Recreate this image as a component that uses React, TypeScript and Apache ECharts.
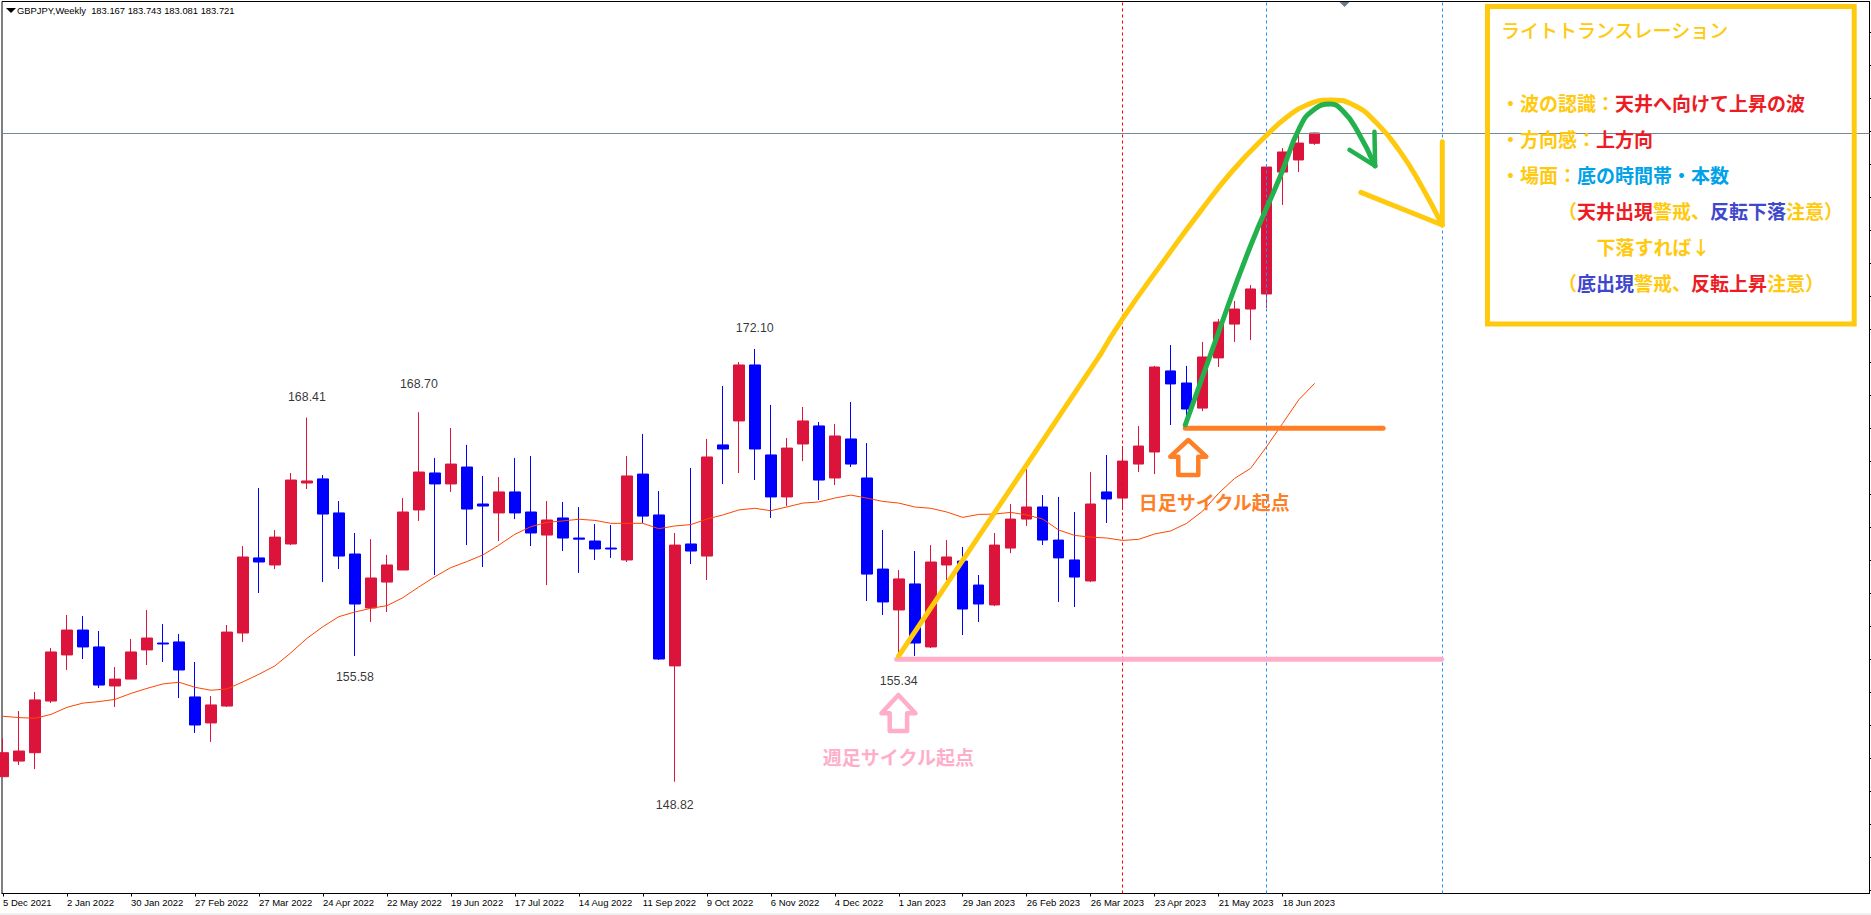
import React, { useEffect, useRef } from "react";
import * as echarts from "echarts";

const dateLabels = ["5 Dec 2021","2 Jan 2022","30 Jan 2022","27 Feb 2022","27 Mar 2022","24 Apr 2022","22 May 2022","19 Jun 2022","17 Jul 2022","14 Aug 2022","11 Sep 2022","9 Oct 2022","6 Nov 2022","4 Dec 2022","1 Jan 2023","29 Jan 2023","26 Feb 2023","26 Mar 2023","23 Apr 2023","21 May 2023","18 Jun 2023"];
const barsPerLabel = 4;

const opens = [149.09,149.93,150.38,153.16,155.64,156.98,156.07,153.97,154.34,155.91,156.28,156.34,153.38,151.98,152.89,156.82,160.86,160.48,161.61,164.89,165.11,163.28,161.07,158.17,159.56,160.21,163.44,165.43,164.84,165.75,163.76,163.28,164.41,163.33,162.09,163.01,161.93,161.77,161.39,160.75,165.37,163.17,155.05,161.61,160.96,166.94,168.23,171.24,166.40,164.14,166.99,167.96,165.16,167.26,165.16,160.26,158.06,159.46,156.07,160.48,160.69,159.40,158.33,161.39,162.95,163.60,161.82,160.75,159.62,164.41,164.08,165.91,166.56,170.92,170.27,168.92,171.62,173.44,174.25,175.06,181.62,182.27,183.167];
const closes = [150.38,150.47,153.22,155.80,156.98,156.07,154.02,154.34,155.80,156.55,156.23,154.83,151.87,152.95,156.87,160.91,160.64,161.98,165.05,165.00,163.22,160.96,158.38,159.78,160.48,163.33,165.48,164.84,165.91,163.49,163.65,164.41,163.28,162.20,162.90,161.93,161.87,161.34,161.34,165.27,163.11,155.42,161.55,161.23,166.29,166.72,171.24,166.72,164.14,166.77,168.23,165.05,167.42,165.91,159.99,158.49,159.73,156.28,160.64,160.91,158.11,158.38,161.55,162.95,163.60,161.82,160.86,159.83,163.76,164.03,166.07,166.88,171.13,170.22,168.87,171.67,173.55,174.25,175.33,181.89,182.70,183.18,183.721];
const lows = [149.09,149.72,149.50,153.05,154.83,155.42,153.86,152.84,154.34,155.10,155.26,153.32,151.44,150.96,152.84,156.34,158.97,160.26,161.55,164.57,159.56,160.26,155.58,157.41,157.95,160.21,162.85,159.94,164.41,161.55,160.37,161.77,162.95,161.50,159.40,161.23,160.05,160.75,160.86,160.64,162.74,155.37,148.82,160.53,159.67,164.84,165.43,165.05,163.01,163.65,166.07,163.98,164.78,165.75,158.54,157.79,155.34,155.58,156.01,159.67,156.71,157.41,158.27,161.12,162.58,161.55,158.49,158.22,159.56,162.74,163.44,165.48,165.37,168.01,168.01,168.76,171.13,172.48,172.58,174.31,179.85,181.62,183.081];
const highs = [151.15,152.62,153.65,156.01,157.79,157.73,156.93,154.99,156.50,158.06,157.30,156.77,155.26,153.43,157.25,161.50,164.62,162.36,165.43,168.41,165.32,163.92,162.20,161.87,161.02,164.08,168.70,166.24,167.85,166.94,165.27,165.21,166.24,166.34,163.92,163.87,163.60,162.68,162.63,166.34,167.53,164.46,162.20,165.70,167.26,170.11,171.40,172.10,169.09,167.31,168.98,168.17,168.06,169.25,167.04,162.36,160.21,161.23,161.55,161.82,161.45,159.94,162.20,163.76,165.75,164.24,164.14,163.33,165.48,166.40,166.88,167.96,171.19,172.31,171.19,172.48,173.71,174.68,175.54,182.05,182.91,183.88,183.743];
const movingAverage = [152.34,152.27,152.23,152.44,152.82,153.05,153.13,153.25,153.57,153.84,154.08,154.17,153.90,153.74,153.81,154.19,154.60,155.05,155.76,156.53,157.16,157.70,157.95,158.15,158.29,158.72,159.30,159.85,160.34,160.66,161.02,161.55,162.13,162.54,162.77,162.85,162.94,162.88,162.72,162.72,162.72,162.43,162.58,162.65,162.95,163.17,163.44,163.53,163.40,163.60,163.81,163.87,164.08,164.24,164.08,163.90,163.81,163.60,163.53,163.33,163.04,163.20,163.22,163.31,163.17,162.95,162.36,162.07,161.98,161.93,161.80,161.86,162.15,162.31,162.72,163.38,164.34,165.14,165.68,166.85,168.10,169.36,170.25];

const highLabelBars = [19, 26, 47];
const lowLabelBars = [22, 42, 56];

const yAxisTicks = [189.14,187.37,185.59,183.81,182.04,180.26,178.49,176.71,174.94,173.16,171.38,169.61,167.83,166.06,164.28,162.5,160.73,158.95,157.18,155.4,153.63,151.85,150.08,148.3,146.53,144.75,142.98];

const currentPrice = 183.721;
const redVerticalBars = [70];
const blueVerticalBars = [79, 90];

const yellowRise = [[55.99,155.58],[68.59,171.78]];
const yellowCurve = [[68.59,171.78],[70.01,173.75],[72.76,177.07],[74.84,179.49],[76.91,181.73],[79.01,183.61],[80.29,184.60],[81.51,185.23],[82.97,185.50],[84.43,185.23],[85.89,184.24],[87.34,182.72],[88.59,181.01],[89.98,178.77]];
const yellowArrowHead = [[84.89,180.53],[89.98,178.77],[89.98,183.25]];
const greenCurve = [[73.91,168.01],[75.89,172.76],[77.97,177.60],[79.84,181.37],[81.09,184.06],[81.93,184.96],[82.97,185.28],[83.80,184.87],[84.64,183.88],[85.78,181.95]];
const greenArrowHead = [[84.18,182.81],[85.78,181.95],[85.74,183.79]];
const dailyStartLine = [[73.91,167.83],[86.28,167.83]];
const weeklyStartLine = [[55.87,155.41],[89.94,155.41]];

const headerText = "GBPJPY,Weekly  183.167 183.743 183.081 183.721";
const weeklyStartText = "週足サイクル起点";
const dailyStartText = "日足サイクル起点";

const YELLOW = "#FFC90E";
const GREEN = "#22B14C";
const ORANGE = "#FF7F27";
const PINK = "#FFAEC9";
const RED = "#ED1C24";
const SKY = "#00A2E8";
const INDIGO = "#3F48CC";
const JP = '"Noto Sans CJK JP"';

const boxLines: { x: number; y: number; parts: [string, string][] }[] = [
  { x: 1501, y: 29.5, parts: [["ライトトランスレーション", YELLOW]] },
  { x: 1501, y: 102, parts: [["・波の認識：", YELLOW], ["天井へ向けて上昇の波", RED]] },
  { x: 1501, y: 138, parts: [["・方向感：", YELLOW], ["上方向", RED]] },
  { x: 1501, y: 174, parts: [["・場面：", YELLOW], ["底の時間帯・本数", SKY]] },
  { x: 1558, y: 210, parts: [["（", YELLOW], ["天井出現", RED], ["警戒、", YELLOW], ["反転下落", INDIGO], ["注意）", YELLOW]] },
  { x: 1596.5, y: 246, parts: [["下落すれば↓", YELLOW]] },
  { x: 1558, y: 282, parts: [["（", YELLOW], ["底出現", INDIGO], ["警戒、", YELLOW], ["反転上昇", RED], ["注意）", YELLOW]] },
];

const hand = (name: string, data: number[][], color: string, width: number, smooth: boolean | number = false) => ({
  type: "line", name, data, smooth, silent: true, showSymbol: false, symbol: "none", clip: false, z: 6,
  lineStyle: { color, width, cap: "round", join: "round" },
});

const upArrow = (tipX: number, tipY: number, wing: number, stem: number, headY: number, baseY: number, color: string) => ({
  type: "polygon", z: 50, silent: true,
  shape: { points: [[tipX, tipY], [tipX + wing, headY], [tipX + stem, headY], [tipX + stem, baseY], [tipX - stem, baseY], [tipX - stem, headY], [tipX - wing, headY]] },
  style: { fill: "#fff", stroke: color, lineWidth: 4.5, lineJoin: "round" },
});

function boxText(line: { x: number; y: number; parts: [string, string][] }, i: number) {
  const rich: Record<string, any> = {};
  const text = line.parts.map(([t, color], j) => {
    rich["p" + j] = { fill: color, fontSize: 19, fontWeight: i === 0 ? 500 : 700, fontFamily: JP };
    return `{p${j}|${t}}`;
  }).join("");
  return {
    type: "text", z: 60, silent: true, x: line.x, y: line.y,
    style: { text, rich, align: "left", verticalAlign: "middle", font: `700 19px ${JP}` },
  };
}

export default function App() {
  const ref = useRef<HTMLDivElement>(null);
  useEffect(() => {
    document.body.style.margin = "0";
    document.body.style.background = "#fff";
    const chart = echarts.init(ref.current!, undefined, { renderer: "svg" });
    const candles = opens.map((o, i) => [i, o, closes[i], lows[i], highs[i]]);
    const xTicks = dateLabels.map((_, i) => i * barsPerLabel);
    const priceLabel = { show: true, distance: 14, color: "#000", fontSize: 12.4, fontFamily: '"Liberation Sans"', formatter: (p: any) => p.value[1].toFixed(2) };
    chart.setOption({
      animation: false,
      backgroundColor: "#fff",
      grid: { left: 1.5, top: 1.5, right: 1.5, bottom: 21.5, show: true, borderColor: "#000", borderWidth: 1, backgroundColor: "#fff" },
      xAxis: {
        type: "value", min: -0.0625, max: 116.6875,
        splitLine: { show: false },
        axisLine: { show: true, onZero: false, lineStyle: { color: "#000", width: 1 } },
        axisTick: { show: true, length: 3, customValues: xTicks, lineStyle: { color: "#000" } },
        axisLabel: {
          customValues: xTicks, align: "left", margin: 4, color: "#000", fontSize: 9.5,
          fontFamily: '"Liberation Sans"', hideOverlap: false,
          formatter: (v: number) => dateLabels[Math.round(v / barsPerLabel)] ?? "",
        },
      },
      yAxis: {
        type: "value", position: "right", min: 142.805, max: 190.796, scale: true,
        splitLine: { show: false },
        axisLine: { show: true, onZero: false, lineStyle: { color: "#000", width: 1 } },
        axisTick: { show: true, length: 2, customValues: yAxisTicks, lineStyle: { color: "#000" } },
        axisLabel: { show: false },
      },
      series: [
        {
          type: "candlestick", name: "GBPJPY", data: candles, encode: { x: 0, y: [1, 2, 3, 4] },
          barWidth: 11, silent: true, z: 2,
          itemStyle: { color: "#DC143C", color0: "#0000FF", borderColor: "#DC143C", borderColor0: "#0000FF", borderWidth: 1 },
          markLine: {
            silent: true, symbol: "none", animation: false, z: 3, label: { show: false },
            data: [
              { yAxis: currentPrice, lineStyle: { color: "#778899", width: 1, type: "solid" } },
              ...redVerticalBars.map((b) => ({ xAxis: b, lineStyle: { color: "#FF0000", width: 1, type: [3, 3] } })),
              ...blueVerticalBars.map((b) => ({ xAxis: b, lineStyle: { color: "#1E90FF", width: 1, type: [3, 3] } })),
            ],
          },
        },
        {
          type: "line", name: "MA", data: movingAverage.map((v, i) => [i, v]), showSymbol: false, symbol: "none", silent: true, z: 4,
          lineStyle: { color: "#FF4500", width: 1 },
        },
        {
          type: "scatter", name: "highs", symbolSize: 1, silent: true, z: 5, itemStyle: { color: "rgba(0,0,0,0)" },
          data: highLabelBars.map((b) => ({ value: [b, highs[b]], label: { distance: b === 26 ? 22 : 14 } })),
          label: { ...priceLabel, position: "top" },
        },
        {
          type: "scatter", name: "lows", symbolSize: 1, silent: true, z: 5, itemStyle: { color: "rgba(0,0,0,0)" },
          data: lowLabelBars.map((b) => ({ value: [b, lows[b]], label: { distance: b === 42 ? 17 : 14 } })),
          label: { ...priceLabel, position: "bottom" },
        },
        hand("weekly start", weeklyStartLine, PINK, 5),
        hand("daily start", dailyStartLine, ORANGE, 5),
        hand("yellow rise", yellowRise, YELLOW, 5),
        hand("yellow", yellowCurve, YELLOW, 5, 0.5),
        hand("yellow arrow", yellowArrowHead, YELLOW, 5),
        hand("green", greenCurve, GREEN, 5, 0.5),
        hand("green arrow", greenArrowHead, GREEN, 4.5),
      ],
      graphic: [
        { type: "rect", z: 40, silent: true, shape: { x: 0, y: 913, width: 1871, height: 2 }, style: { fill: "#F0F0F0" } },
        { type: "polygon", z: 40, silent: true, shape: { points: [[6, 8], [16, 8], [11, 13]] }, style: { fill: "#000" } },
        { type: "polygon", z: 40, silent: true, shape: { points: [[1339.5, 2], [1349.5, 2], [1344.5, 7]] }, style: { fill: "#6B7B8C" } },
        { type: "text", z: 40, silent: true, x: 17, y: 10, style: { text: headerText, fill: "#000", font: '9.4px "Liberation Sans"', align: "left", verticalAlign: "middle" } },
        upArrow(898.4, 695, 17, 8.7, 713.3, 731, PINK),
        upArrow(1188.3, 440, 18, 10, 456.7, 475, ORANGE),
        { type: "text", z: 50, silent: true, x: 898.4, y: 756, style: { text: weeklyStartText, fill: PINK, font: `700 19px ${JP}`, align: "center", verticalAlign: "middle" } },
        { type: "text", z: 50, silent: true, x: 1214.3, y: 501.7, style: { text: dailyStartText, fill: ORANGE, font: `700 19px ${JP}`, align: "center", verticalAlign: "middle" } },
        { type: "rect", z: 55, silent: true, shape: { x: 1487.5, y: 6.5, width: 366.7, height: 317.5 }, style: { fill: "transparent", stroke: YELLOW, lineWidth: 5 } },
        ...boxLines.map(boxText),
      ],
    });
    return () => chart.dispose();
  }, []);
  return <div ref={ref} style={{ width: 1871, height: 915 }} />;
}
